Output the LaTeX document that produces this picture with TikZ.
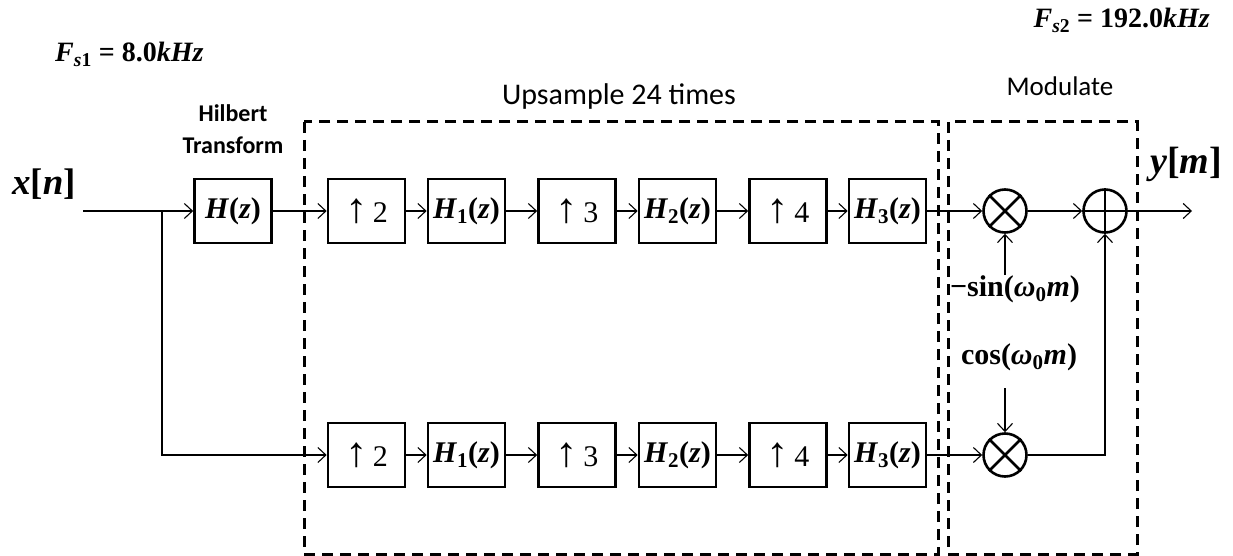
\documentclass[tikz,border=0pt]{standalone}
\usepackage{graphicx}
\usepackage{fontspec}
\setmainfont{Liberation Serif}
\newfontfamily\calfont{Carlito}
\usetikzlibrary{arrows.meta}
\newcommand{\upn}[1]{\scalebox{1.5}[1.4]{↑}\,#1}
\begin{document}
\begin{tikzpicture}[x=1pt,y=-1pt,
  blk/.style={draw,line width=2.7pt,minimum width=77pt,minimum height=64pt,inner sep=0pt,font=\fontsize{30}{36}\selectfont},
  sumnode/.style={draw,circle,line width=2.6pt,minimum size=43pt,inner sep=0pt},
  arr/.style={line width=1.1pt,-{Straight Barb[length=8pt,width=15pt,line width=1.1pt]}},
  dbox/.style={line width=3pt,dash pattern=on 11pt off 7pt},
  lbl/.style={inner sep=0pt},
  ]
\useasboundingbox (0,0) rectangle (1233,556);
% dashed regions
\draw[dbox] (304,122) rectangle (938,554);
\draw[dbox] (948,122) rectangle (1137,554);
% titles
\node[lbl,font=\calfont\fontsize{30}{36}\selectfont] (tup) at (619,97) {Upsample 24 times};
\node[lbl,font=\calfont\fontsize{27}{32}\selectfont] (tmod) at (1060,86) {Modulate};
\node[lbl,font=\calfont\bfseries\fontsize{24}{32}\selectfont,align=center] (thil) at (233,129) {Hilbert\\Transform};
% rates
\node[lbl,anchor=base west,font=\bfseries\fontsize{28}{32}\selectfont] (fs1) at (55,62) {\textit{F}\textsubscript{\textit{s}1} = 8.0\textit{kHz}};
\node[lbl,anchor=base east,font=\bfseries\fontsize{28}{32}\selectfont] (fs2) at (1210,28) {\textit{F}\textsubscript{\textit{s}2} = 192.0\textit{kHz}};
% signals
\node[lbl,font=\bfseries\fontsize{37}{42}\selectfont] (xn) at (44,184) {\textit{x}\textup{[}\textit{n}\textup{]}};
\node[lbl,font=\bfseries\fontsize{38}{42}\selectfont] (ym) at (1186,164) {\textit{y}\textup{[}\textit{m}\textup{]}};
% top row
\node[blk] (H) at (233,211) {\textbf{\textit{H}(\textit{z})}};
\node[blk] (a1) at (366.5,211) {\upn{2}};
\node[blk] (h1) at (466.5,211) {\textbf{\textit{H}\textsubscript{1}(\textit{z})}};
\node[blk] (a2) at (577,211) {\upn{3}};
\node[blk] (h2) at (677.5,211) {\textbf{\textit{H}\textsubscript{2}(\textit{z})}};
\node[blk] (a3) at (788,211) {\upn{4}};
\node[blk] (h3) at (887.5,211) {\textbf{\textit{H}\textsubscript{3}(\textit{z})}};
% bottom row
\node[blk] (b1) at (366.5,455) {\upn{2}};
\node[blk] (g1) at (466.5,455) {\textbf{\textit{H}\textsubscript{1}(\textit{z})}};
\node[blk] (b2) at (577,455) {\upn{3}};
\node[blk] (g2) at (677.5,455) {\textbf{\textit{H}\textsubscript{2}(\textit{z})}};
\node[blk] (b3) at (788,455) {\upn{4}};
\node[blk] (g3) at (887.5,455) {\textbf{\textit{H}\textsubscript{3}(\textit{z})}};
% mixers
\node[sumnode] (m1) at (1005,211) {};
\node[sumnode] (ad) at (1105,211) {};
\node[sumnode] (m2) at (1005,455) {};
\draw[line width=2.6pt] (m1.north east) -- (m1.south west) (m1.north west) -- (m1.south east);
\draw[line width=2.6pt] (m2.north east) -- (m2.south west) (m2.north west) -- (m2.south east);
\draw[line width=2.6pt] (ad.north) -- (ad.south) (ad.west) -- (ad.east);
% carrier labels
\node[lbl,font=\bfseries\fontsize{30}{34}\selectfont] (sin) at (1015,289) {−sin(\textit{ω}\textsubscript{0}\textit{m})};
\node[lbl,font=\bfseries\fontsize{30}{34}\selectfont] (cos) at (1019,357) {cos(\textit{ω}\textsubscript{0}\textit{m})};
\coordinate (sintop) at (1005,275);
\coordinate (cosbot) at (1005,388);
% connectors
\coordinate (in) at (83,211);
\coordinate (br) at (162,211);
\coordinate (out) at (1192,211);
\draw[arr] (in) -- (H);
\draw[arr] (br) |- (b1);
\draw[arr] (H) -- (a1);
\draw[arr] (a1) -- (h1);
\draw[arr] (h1) -- (a2);
\draw[arr] (a2) -- (h2);
\draw[arr] (h2) -- (a3);
\draw[arr] (a3) -- (h3);
\draw[arr] (h3) -- (m1);
\draw[arr] (b1) -- (g1);
\draw[arr] (g1) -- (b2);
\draw[arr] (b2) -- (g2);
\draw[arr] (g2) -- (b3);
\draw[arr] (b3) -- (g3);
\draw[arr] (g3) -- (m2);
\draw[arr] (m1) -- (ad);
\draw[arr] (ad) -- (out);
\draw[arr] (sintop) -- (m1);
\draw[arr] (cosbot) -- (m2);
\draw[arr] (m2) -| (ad);
\end{tikzpicture}
\end{document}
